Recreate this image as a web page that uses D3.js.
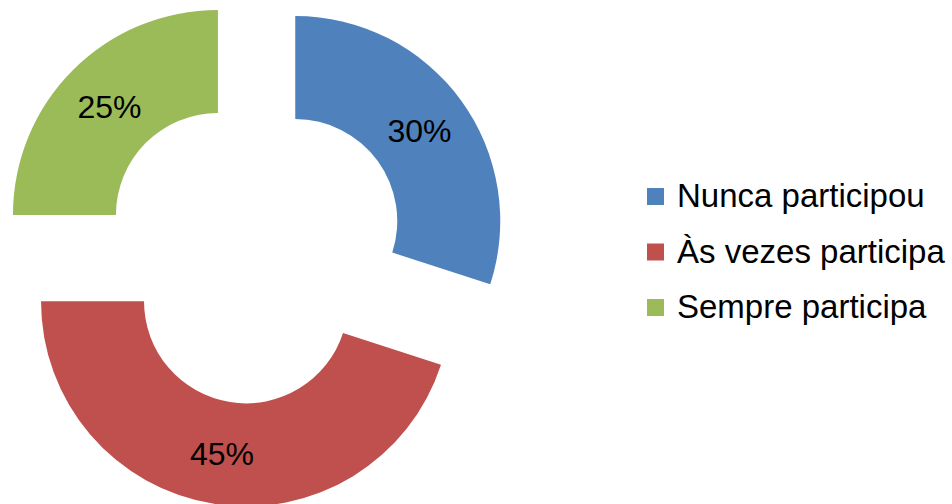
<!DOCTYPE html>
<html><head><meta charset="utf-8">
<script src="https://cdn.jsdelivr.net/npm/d3@7"></script>
<style>body{margin:0;background:#fff}svg{display:block}</style>
</head><body>
<script>
const categories = ["Nunca participou", "Às vezes participa", "Sempre participa"];
const values = [30, 45, 25];
const labels = ["30%", "45%", "25%"];
const colors = ["#4F81BD", "#C0504D", "#9BBB59"];

const W = 952, H = 504;
const cx = 254, cy = 251, R = 205, r = 102, explode = 51;
const svg = d3.select("body").append("svg").attr("width", W).attr("height", H);
const font = "'Liberation Sans', Arial, sans-serif";

const pie = d3.pie().sort(null).value(d => d);
const arcs = pie(values);
const arc = d3.arc().innerRadius(r).outerRadius(R);

const g = svg.append("g").attr("transform", `translate(${cx},${cy})`);
const slices = g.selectAll("g.slice").data(arcs).enter().append("g")
  .attr("transform", d => {
    const a = (d.startAngle + d.endAngle) / 2;
    return `translate(${explode * Math.sin(a)},${-explode * Math.cos(a)})`;
  });
slices.append("path").attr("d", arc).attr("fill", (d, i) => colors[i]);
slices.append("text")
  .attr("transform", d => `translate(${arc.centroid(d)})`)
  .attr("text-anchor", "middle").attr("dy", "0.36em")
  .attr("font-family", font).attr("font-size", 32).attr("fill", "#000")
  .text((d, i) => labels[i]);

const leg = svg.append("g");
const y = d3.scalePoint().domain(categories).range([207, 318]);
categories.forEach((c, i) => {
  leg.append("rect").attr("x", 647).attr("y", y(c) - 19).attr("width", 17).attr("height", 17).attr("fill", colors[i]);
  leg.append("text").attr("x", 677).attr("y", y(c)).attr("font-family", font).attr("font-size", 33)
    .attr("fill", "#000").text(c);
});
</script>
</body></html>
